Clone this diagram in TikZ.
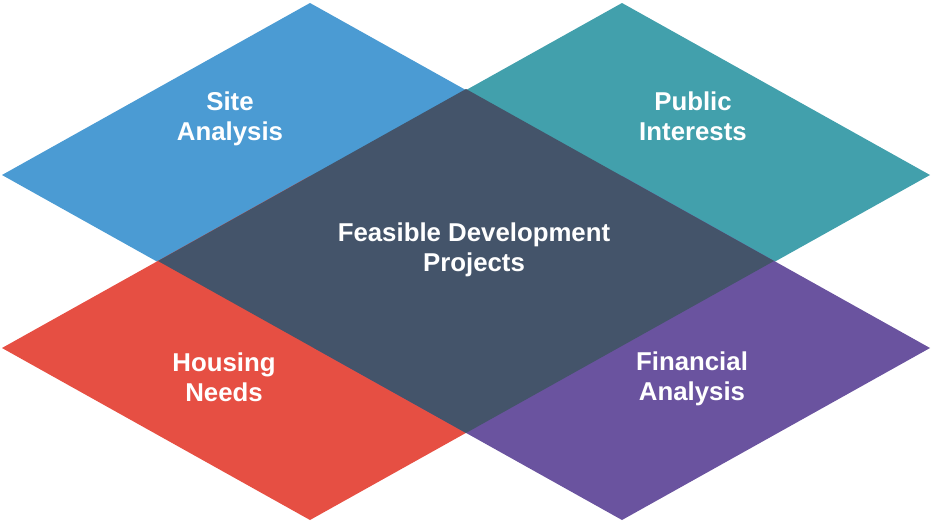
\documentclass[tikz,border=0pt]{standalone}
\usepackage{fontspec}
\setmainfont{Liberation Sans}
\begin{document}
\begin{tikzpicture}[x=1pt,y=-1pt,
  label text/.style={text=white,font=\bfseries\fontsize{25.8}{30}\selectfont,align=center,inner sep=0pt}]
\definecolor{siteblue}{RGB}{75,155,211}
\definecolor{publicteal}{RGB}{66,160,172}
\definecolor{housingred}{RGB}{230,79,67}
\definecolor{financepurple}{RGB}{106,83,159}
\definecolor{coreslate}{RGB}{68,84,106}
\useasboundingbox (0,0) rectangle (932,525);
% rhombus of half width 308 and half height 172 around a centre
\newcommand{\rhombus}[3]{\fill[#1] (#2-308,#3) -- (#2,#3-172) -- (#2+308,#3) -- (#2,#3+172) -- cycle;}
% outer diamonds
\rhombus{siteblue}{310}{175}
\rhombus{publicteal}{622}{175}
\rhombus{housingred}{310}{348}
\rhombus{financepurple}{622}{348}
% central diamond on top
\rhombus{coreslate}{466}{261}
% labels
\node[label text] (site) at (230,119) {Site\\Analysis};
\node[label text] (public) at (693,116) {Public\\Interests};
\node[label text] (core) at (474,250) {Feasible Development\\Projects};
\node[label text] (housing) at (224,377) {Housing\\Needs};
\node[label text] (finance) at (692,379) {Financial\\Analysis};
\end{tikzpicture}
\end{document}
